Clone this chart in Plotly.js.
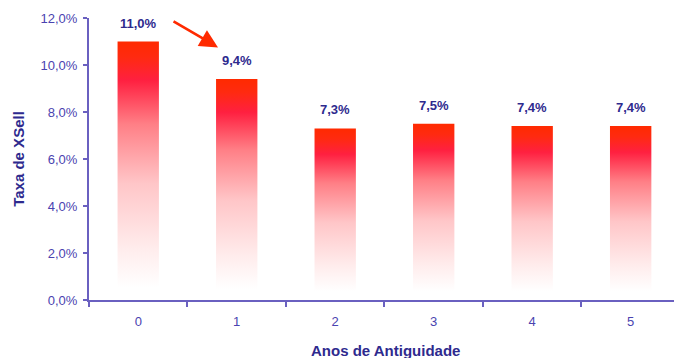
<!DOCTYPE html>
<html>
<head>
<meta charset="utf-8">
<script src="https://cdn.plot.ly/plotly-3.0.1.min.js"></script>
<style>
html,body{margin:0;padding:0;background:#fff;}
#chart{width:674px;height:358px;}
</style>
</head>
<body>
<div id="chart"></div>
<script>
// Data
var categories = ["0", "1", "2", "3", "4", "5"];
var xsellRate = [0.110, 0.094, 0.073, 0.075, 0.074, 0.074];
var yTickValues = [0, 0.02, 0.04, 0.06, 0.08, 0.10, 0.12];

var tickColor = "#4a43b0";
var titleColor = "#2e2a8e";
var axisColor = "#6a60c0";

function fmt(v) { return (v * 100).toFixed(1).replace(".", ",") + "%"; }

var trace = {
  type: "bar",
  x: categories,
  y: xsellRate,
  width: 0.42,
  marker: { color: "#ff5050", line: { width: 0 } },
  hoverinfo: "none"
};

var annotations = categories.map(function (c, i) {
  return {
    x: c, y: xsellRate[i], xref: "x", yref: "y",
    text: "<b>" + fmt(xsellRate[i]) + "</b>",
    showarrow: false, yanchor: "bottom", yshift: 9,
    font: { family: "Liberation Sans, Arial, sans-serif", size: 13, color: titleColor }
  };
});
// red arrow from bar 0 label toward bar 1
annotations.push({
  x: 0.81, y: 0.1075, xref: "x", yref: "y",
  ax: -46, ay: -27, axref: "pixel", ayref: "pixel",
  text: "", showarrow: true, arrowhead: 2, arrowsize: 1.4, arrowwidth: 2.6,
  arrowcolor: "#ff2a00"
});
// x-axis title
annotations.push({
  x: 0.506, y: 0, xref: "paper", yref: "paper", yanchor: "top", yshift: -40,
  text: "<b>Anos de Antiguidade</b>", showarrow: false,
  font: { family: "Liberation Sans, Arial, sans-serif", size: 15, color: titleColor }
});

var layout = {
  width: 674, height: 358,
  margin: { l: 89, r: 0, t: 18, b: 58 },
  paper_bgcolor: "#ffffff", plot_bgcolor: "#ffffff",
  showlegend: false,
  separators: ",.",
  font: { family: "Liberation Sans, Arial, sans-serif", size: 13, color: tickColor },
  xaxis: {
    type: "category",
    range: [-0.5, 5.44],
    showline: true, linecolor: axisColor, linewidth: 2,
    ticks: "outside", tickson: "boundaries", ticklen: 5, tickwidth: 2, tickcolor: axisColor,
    ticklabelstandoff: 8,
    showgrid: false, zeroline: false,
    tickfont: { size: 13, color: tickColor }
  },
  yaxis: {
    range: [0, 0.12],
    tickvals: yTickValues,
    tickformat: ".1%",
    showline: true, linecolor: axisColor, linewidth: 2,
    ticks: "outside", ticklen: 4, tickwidth: 2, tickcolor: axisColor,
    ticklabelstandoff: 3,
    showgrid: false, zeroline: false,
    tickfont: { size: 13, color: tickColor },
    title: { text: "<b>Taxa de XSell</b>", standoff: 12,
      font: { family: "Liberation Sans, Arial, sans-serif", size: 15, color: titleColor } }
  },
  annotations: annotations
};

var gd = document.getElementById("chart");
Plotly.newPlot(gd, [trace], layout, { staticPlot: true, displayModeBar: false }).then(function () {
  var NS = "http://www.w3.org/2000/svg";
  var svg = gd.querySelector("svg.main-svg");
  var defs = svg.querySelector("defs");
  if (!defs) { defs = document.createElementNS(NS, "defs"); svg.insertBefore(defs, svg.firstChild); }
  var g = document.createElementNS(NS, "linearGradient");
  g.setAttribute("id", "xsGrad");
  g.setAttribute("x1", "0"); g.setAttribute("y1", "0");
  g.setAttribute("x2", "0"); g.setAttribute("y2", "1");
  var stops = [
    [0, "#ff2a00"], [0.06, "#ff2a10"], [0.15, "#ff2040"], [0.32, "#ff7f86"],
    [0.55, "#ffc6c8"], [0.8, "#ffecec"], [0.95, "#ffffff"], [1, "#ffffff"]
  ];
  stops.forEach(function (s) {
    var st = document.createElementNS(NS, "stop");
    st.setAttribute("offset", s[0]);
    st.setAttribute("stop-color", s[1]);
    g.appendChild(st);
  });
  defs.appendChild(g);
  gd.querySelectorAll(".barlayer .bars path").forEach(function (p) {
    p.style.fill = "url(#xsGrad)";
  });
});
</script>
</body>
</html>
